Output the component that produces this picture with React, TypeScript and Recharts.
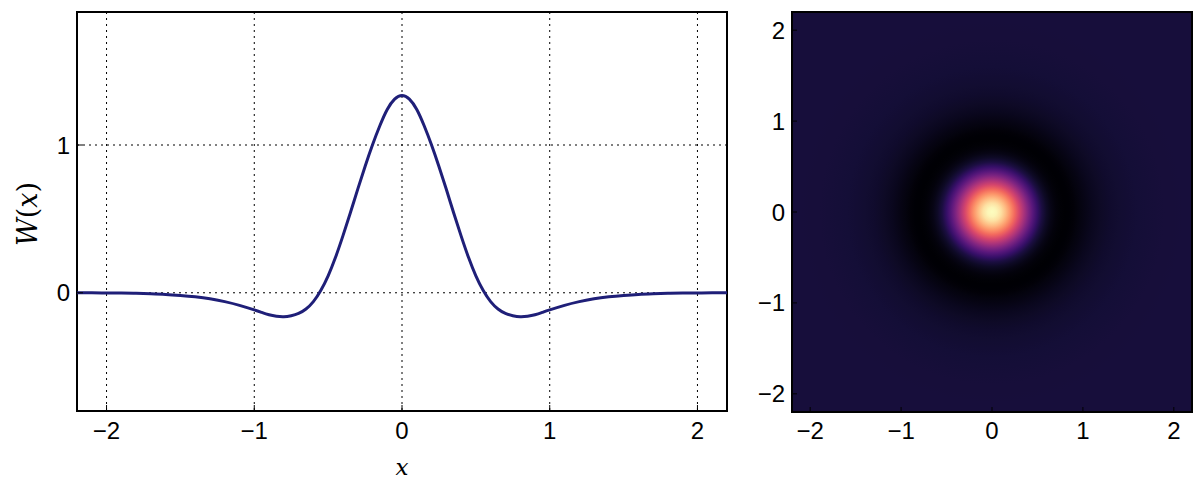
import React from 'react'
import { LineChart, Line, XAxis, YAxis, CartesianGrid, ReferenceArea, ScatterChart } from 'recharts'

// half profile of W(x) (the curve is symmetric about x = 0)
const halfX = [
  0, 0.05, 0.1, 0.15, 0.2, 0.25, 0.3, 0.35, 0.4, 0.45, 0.5, 0.55, 0.6, 0.65, 0.7, 0.75, 0.8, 0.85, 0.9, 0.95,
  1.0, 1.1, 1.2, 1.3, 1.4, 1.5, 1.6, 1.7, 1.8, 1.9, 2.0, 2.1, 2.2,
]
const halfW = [
  1.335, 1.31, 1.24, 1.13, 1.0, 0.855, 0.7, 0.54, 0.385, 0.24, 0.115, 0.015, -0.06, -0.11, -0.14, -0.155,
  -0.162, -0.159, -0.149, -0.133, -0.116, -0.085, -0.06, -0.04, -0.027, -0.018, -0.011, -0.007, -0.004, -0.002,
  -0.001, 0, 0,
]

const xTicks = [-2, -1, 0, 1, 2]
const yTicksLeft = [0, 1]
const yTicksRight = [-2, -1, 0, 1, 2]

// magma colormap anchors
const magma = [
  [0, 0, 4], [20, 14, 54], [59, 15, 112], [100, 26, 128], [140, 41, 129], [183, 55, 121],
  [222, 73, 104], [247, 112, 92], [254, 159, 109], [254, 207, 146], [252, 253, 191],
]

const magmaColor = (t: number) => {
  const v = Math.max(0, Math.min(1, t)) * (magma.length - 1)
  const i = Math.min(Math.floor(v), magma.length - 2)
  const f = v - i
  const c = magma[i].map((a, k) => Math.round(a + (magma[i + 1][k] - a) * f))
  return `rgb(${c[0]},${c[1]},${c[2]})`
}

// full curve, mirrored from the half profile
const lineData = [
  ...halfX.slice(1).map((x, i) => ({ x: -x, w: halfW[i + 1] })).reverse(),
  ...halfX.map((x, i) => ({ x, w: halfW[i] })),
]

const wMin = Math.min(...halfW)
const wMax = Math.max(...halfW)
const gradientStops = halfX.map((x, i) => ({
  offset: `${(x / 2.2) * 100}%`,
  color: magmaColor((halfW[i] - wMin) / (wMax - wMin)),
}))

const fmt = (v: number) => (v < 0 ? `\u2212${-v}` : `${v}`)
const blank = () => ''
const sans = '"Liberation Sans", Arial, sans-serif'
const tickStyle = { fill: '#000', fontSize: 24, fontFamily: sans }
const serif = '"DejaVu Serif", "Liberation Serif", serif'

export default function App() {
  return (
    <div style={{ position: 'absolute', left: 0, top: 0, width: 1200, height: 484, background: '#fff' }}>
      <svg width={0} height={0} style={{ position: 'absolute' }}>
        <defs>
          <radialGradient id="wignerMap" cx="50%" cy="50%" r="50%">
            {gradientStops.map((s, i) => (
              <stop key={i} offset={s.offset} stopColor={s.color} />
            ))}
          </radialGradient>
        </defs>
      </svg>

      <div style={{ position: 'absolute', left: 0, top: 0 }}>
        <LineChart width={740} height={484} data={lineData} margin={{ top: 12, right: 13, bottom: 0, left: 0 }}>
          <CartesianGrid stroke="#000" strokeWidth={1} strokeDasharray="2 4" />
          <XAxis
            dataKey="x"
            type="number"
            domain={[-2.2, 2.2]}
            ticks={xTicks}
            allowDataOverflow
            height={73}
            axisLine={false}
            tickSize={-6}
            tickMargin={17}
            tickLine={{ stroke: '#000' }}
            tickFormatter={fmt}
            tick={tickStyle}
            fontSize={24}
            fontFamily={sans}
          />
          <XAxis
            xAxisId="top"
            orientation="top"
            dataKey="x"
            type="number"
            domain={[-2.2, 2.2]}
            ticks={xTicks}
            allowDataOverflow
            height={0}
            axisLine={false}
            tickSize={-6}
            tickLine={{ stroke: '#000' }}
            tickFormatter={blank}
          />
          <YAxis
            type="number"
            domain={[-0.8, 1.9]}
            ticks={yTicksLeft}
            allowDataOverflow
            width={77}
            axisLine={false}
            tickSize={-6}
            tickMargin={13}
            tickLine={{ stroke: '#000' }}
            tickFormatter={fmt}
            tick={tickStyle}
            fontSize={24}
            fontFamily={sans}
          />
          <YAxis
            yAxisId="right"
            orientation="right"
            type="number"
            domain={[-0.8, 1.9]}
            ticks={yTicksLeft}
            allowDataOverflow
            width={0}
            axisLine={false}
            tickSize={-6}
            tickLine={{ stroke: '#000' }}
            tickFormatter={blank}
          />
          <Line
            type="natural"
            dataKey="w"
            stroke="#1f1f78"
            strokeWidth={3}
            dot={false}
            isAnimationActive={false}
          />
          <ReferenceArea x1={-2.2} x2={2.2} y1={-0.8} y2={1.9} fill="none" stroke="#000" strokeWidth={2} />
        </LineChart>
      </div>

      <div style={{ position: 'absolute', left: 740, top: 0 }}>
        <ScatterChart width={460} height={484} margin={{ top: 12, right: 8, bottom: 0, left: 0 }}>
          <XAxis
            dataKey="x"
            type="number"
            domain={[-2.2, 2.2]}
            ticks={xTicks}
            allowDataOverflow
            height={72}
            axisLine={false}
            tickSize={-5}
            tickMargin={15}
            tickLine={{ stroke: '#000' }}
            tickFormatter={fmt}
            tick={tickStyle}
            fontSize={24}
            fontFamily={sans}
          />
          <XAxis
            xAxisId="top"
            orientation="top"
            dataKey="x"
            type="number"
            domain={[-2.2, 2.2]}
            ticks={xTicks}
            allowDataOverflow
            height={0}
            axisLine={false}
            tickSize={-5}
            tickLine={{ stroke: '#000' }}
            tickFormatter={blank}
          />
          <YAxis
            dataKey="y"
            type="number"
            domain={[-2.2, 2.2]}
            ticks={yTicksRight}
            allowDataOverflow
            width={52}
            axisLine={false}
            tickSize={-5}
            tickMargin={12}
            tickLine={{ stroke: '#000' }}
            tickFormatter={fmt}
            tick={tickStyle}
            fontSize={24}
            fontFamily={sans}
          />
          <YAxis
            yAxisId="right"
            orientation="right"
            dataKey="y"
            type="number"
            domain={[-2.2, 2.2]}
            ticks={yTicksRight}
            allowDataOverflow
            width={0}
            axisLine={false}
            tickSize={-5}
            tickLine={{ stroke: '#000' }}
            tickFormatter={blank}
          />
          <ReferenceArea
            x1={-2.2}
            x2={2.2}
            y1={-2.2}
            y2={2.2}
            fill="url(#wignerMap)"
            fillOpacity={1}
            stroke="#000"
            strokeWidth={2}
          />
        </ScatterChart>
      </div>

      <div
        style={{
          position: 'absolute',
          left: 402,
          top: 467,
          transform: 'translate(-50%, -50%)',
          fontFamily: serif,
          fontStyle: 'italic',
          fontSize: 23,
        }}
      >
        x
      </div>
      <div
        style={{
          position: 'absolute',
          left: 27,
          top: 214,
          transform: 'translate(-50%, -50%) rotate(-90deg)',
          fontFamily: serif,
          fontSize: 27,
          whiteSpace: 'nowrap',
        }}
      >
        <i>W</i>(<i>x</i>)
      </div>
    </div>
  )
}
